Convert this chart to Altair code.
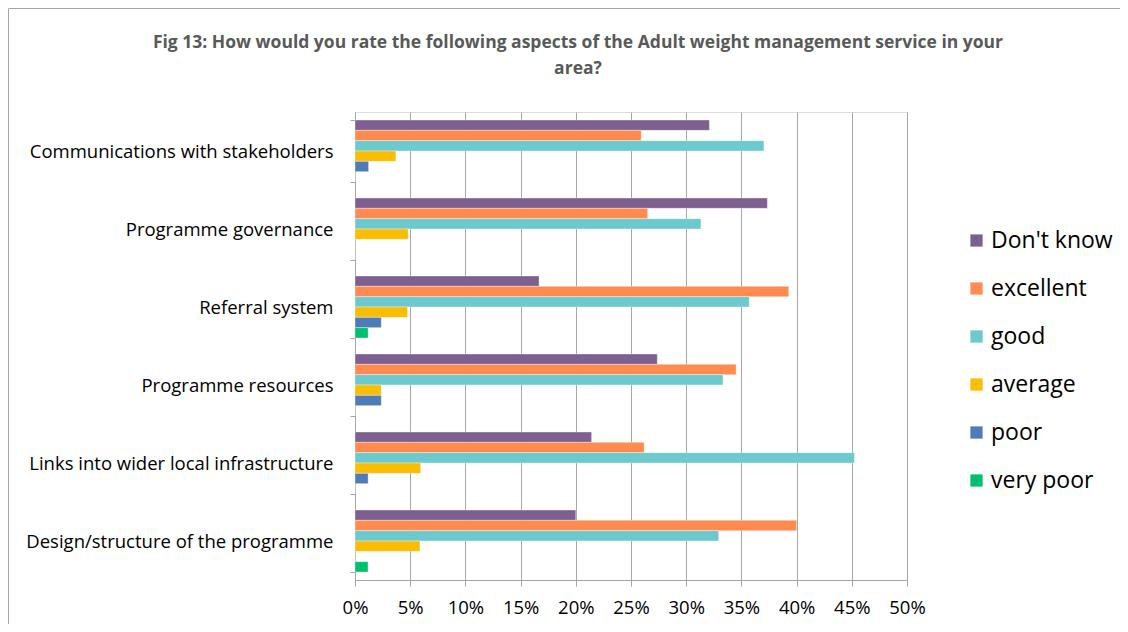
import altair as alt
import pandas as pd

categories = [
    "Communications with stakeholders",
    "Programme governance",
    "Referral system",
    "Programme resources",
    "Links into wider local infrastructure",
    "Design/structure of the programme",
]
series = ["Don't know", "excellent", "good", "average", "poor", "very poor"]
colors = ["#7E6090", "#FF8B50", "#6CC9CD", "#FBBD00", "#4F7BB7", "#00C06E"]

dont_know = [32.10, 37.35, 16.67, 27.38, 21.43, 20.00]
excellent = [25.93, 26.51, 39.29, 34.52, 26.19, 40.00]
good      = [37.04, 31.33, 35.71, 33.33, 45.24, 32.94]
average   = [3.70, 4.82, 4.76, 2.38, 5.95, 5.88]
poor      = [1.23, 0.00, 2.38, 2.38, 1.19, 0.00]
very_poor = [0.00, 0.00, 1.19, 0.00, 0.00, 1.18]

tick_values = [0, 5, 10, 15, 20, 25, 30, 35, 40, 45, 50]

title_lines = [
    "Fig 13: How would you rate the following aspects of the Adult weight management service in your",
    "area?",
]

rows = []
for s, vals in zip(series, [dont_know, excellent, good, average, poor, very_poor]):
    for c, v in zip(categories, vals):
        rows.append({"category": c, "series": s, "value": v})
df = pd.DataFrame(rows)

FONT = "Open Sans"

bars = alt.Chart(df).mark_bar(
    stroke="#ffffff", strokeWidth=0.6, strokeOpacity=0.6
).encode(
    x=alt.X("value:Q", scale=alt.Scale(domain=[0, 50], nice=False),
            axis=alt.Axis(values=tick_values, labelExpr="datum.value + '%'",
                          title=None, grid=True, gridColor="#A6A6A6",
                          domainColor="#A6A6A6", tickColor="#A6A6A6",
                          tickSize=6, labelFontSize=18.5, labelColor="#000000",
                          labelFont=FONT, labelPadding=12, labelFlush=False,
                          labelOverlap=False)),
    y=alt.Y("category:N", sort=categories,
            scale=alt.Scale(paddingInner=0.205, paddingOuter=0.1025),
            axis=alt.Axis(title=None, tickBand="extent", grid=False,
                          domainColor="#A6A6A6", tickColor="#A6A6A6",
                          tickSize=5, labelFontSize=18.5, labelColor="#000000",
                          labelFont=FONT, labelPadding=17, labelLimit=400)),
    yOffset=alt.YOffset("series:N", sort=series, scale=alt.Scale(paddingInner=0, paddingOuter=0)),
    color=alt.Color("series:N", sort=series,
                    scale=alt.Scale(domain=series, range=colors),
                    legend=alt.Legend(title=None, orient="none", legendX=610, legendY=117,
                                      symbolType="square", symbolSize=150,
                                      symbolStrokeWidth=0, labelFontSize=23,
                                      labelFont=FONT, labelColor="#000000",
                                      rowPadding=24, labelOffset=3)),
)

border = alt.Chart(pd.DataFrame({"d": [0]})).mark_rect(
    fill=None, stroke="#A6A6A6", strokeWidth=1, clip=False
).encode(
    x=alt.value(-346.5), x2=alt.value(1200), y=alt.value(-103.5), y2=alt.value(800)
)

title = alt.Chart(pd.DataFrame({"d": [0]})).mark_text(
    font=FONT, fontSize=17.5, fontWeight="bold", color="#595959",
    lineHeight=26, align="center", baseline="middle", clip=False
).encode(
    x=alt.value(223), y=alt.value(-69), text=alt.value(title_lines)
)

chart = alt.layer(border, title, bars).properties(
    width=552, height=468,
    autosize=alt.AutoSizeParams(type="none"),
    padding={"left": 347, "top": 104, "right": 213, "bottom": 44},
).configure_view(stroke=None).configure(background="#ffffff")

chart.save("out.html", embed_options={"renderer": "svg", "actions": False})
